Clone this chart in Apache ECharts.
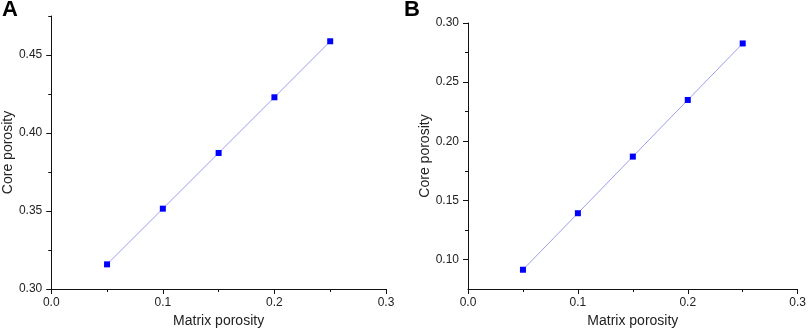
<!DOCTYPE html>
<html>
<head>
<meta charset="utf-8">
<script src="https://cdn.jsdelivr.net/npm/echarts@6/dist/echarts.min.js"></script>
<style>html,body{margin:0;padding:0;background:#fff;}#c{width:809px;height:334px;}</style>
</head>
<body>
<div id="c"></div>
<script>
// Data
const matrixPorosity = [0.05, 0.10, 0.15, 0.20, 0.25];
const corePorosityA = [0.3158, 0.3515, 0.3872, 0.4229, 0.4588];
const corePorosityB = [0.0913, 0.1391, 0.1870, 0.2349, 0.2827];
const xTicks = [0.0, 0.1, 0.2, 0.3];
const yTicksA = [0.30, 0.35, 0.40, 0.45];
const yMinorA = [0.325, 0.375, 0.425, 0.475];
const yTicksB = [0.10, 0.15, 0.20, 0.25, 0.30];
const yMinorB = [0.125, 0.175, 0.225, 0.275];
const panelLabels = ['A', 'B'];
const xTitle = 'Matrix porosity';
const yTitle = 'Core porosity';

const FONT = 'Liberation Sans, Arial, sans-serif';
const AX = '#111';
const TXT = '#222';

function xAxisFor(gi) {
  return {
    type: 'value', gridIndex: gi, min: xTicks[0], max: xTicks[xTicks.length - 1], interval: 0.1,
    splitLine: { show: false },
    axisLine: { show: true, lineStyle: { color: AX, width: 1 } },
    axisTick: { show: true, length: 5, lineStyle: { color: AX } },
    minorTick: { show: true, splitNumber: 2, length: 3, lineStyle: { color: AX } },
    axisLabel: { fontFamily: FONT, fontSize: 12, color: TXT, margin: 8, formatter: v => v.toFixed(1) },
    name: xTitle, nameLocation: 'middle', nameGap: 25,
    nameTextStyle: { fontFamily: FONT, fontSize: 14, color: TXT }
  };
}
function yMajor(gi, min, max, ticks) {
  return {
    type: 'value', gridIndex: gi, min: min, max: max, position: 'left',
    splitLine: { show: false },
    axisLine: { show: true, onZero: false, lineStyle: { color: AX, width: 1 } },
    axisTick: { show: true, length: 5, customValues: ticks, lineStyle: { color: AX } },
    axisLabel: { fontFamily: FONT, fontSize: 12, color: TXT, margin: 9, customValues: ticks, formatter: v => v.toFixed(2) },
    name: yTitle, nameLocation: 'middle', nameGap: 33, nameRotate: 90,
    nameTextStyle: { fontFamily: FONT, fontSize: 14, color: TXT }
  };
}
function yMinor(gi, min, max, ticks) {
  return {
    type: 'value', gridIndex: gi, min: min, max: max, position: 'left', offset: 0,
    splitLine: { show: false },
    axisLine: { show: false },
    axisTick: { show: true, length: 3, customValues: ticks, lineStyle: { color: AX } },
    axisLabel: { show: false }
  };
}
function series(gi, ys) {
  return {
    type: 'line', xAxisIndex: gi, yAxisIndex: gi * 2,
    data: matrixPorosity.map((x, i) => [x, ys[i]]),
    symbol: 'rect', symbolSize: 6,
    itemStyle: { color: '#0000ff' },
    lineStyle: { color: '#9d9df0', width: 1 },
    emphasis: { disabled: true }, silent: true, animation: false
  };
}

const chart = echarts.init(document.getElementById('c'), null, { renderer: 'canvas' });
chart.setOption({
  animation: false,
  title: [
    { text: panelLabels[0], left: -3, top: -6, textStyle: { fontFamily: FONT, fontSize: 22, fontWeight: 'bold', color: '#000' } },
    { text: panelLabels[1], left: 399, top: -6, textStyle: { fontFamily: FONT, fontSize: 22, fontWeight: 'bold', color: '#000' } }
  ],
  grid: [
    { left: 50, right: 423, top: 16, bottom: 45 },
    { left: 468, right: 10, top: 23, bottom: 45 }
  ],
  xAxis: [xAxisFor(0), xAxisFor(1)],
  yAxis: [
    yMajor(0, 0.30, 0.475, yTicksA), yMinor(0, 0.30, 0.475, yMinorA),
    yMajor(1, 0.075, 0.30, yTicksB), yMinor(1, 0.075, 0.30, yMinorB)
  ],
  series: [series(0, corePorosityA), series(1, corePorosityB)]
});
</script>
</body>
</html>
